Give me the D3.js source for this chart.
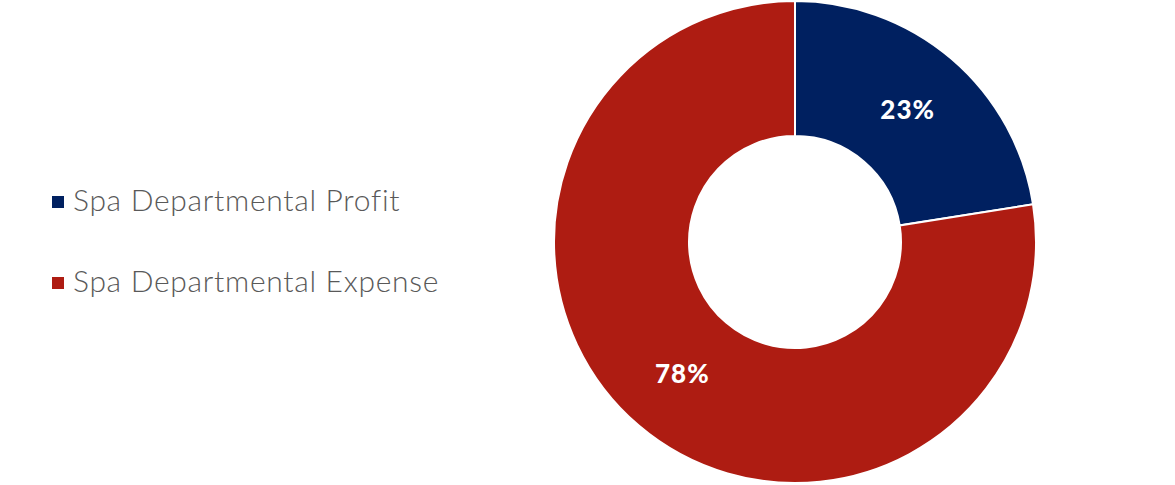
<!DOCTYPE html>
<html lang="en">
<head>
    <meta charset="UTF-8">
    <title>spa donut</title>
    <script src="https://d3js.org/d3.v7.min.js"></script>
    <style>
        body { margin: 0; background: #fff; }
        .legend text { font-family: Lato, "Open Sans", sans-serif; font-weight: 300; fill: #595959; letter-spacing: 0.7px; }
        .lbl { font-family: Lato, "Open Sans", sans-serif; font-weight: 900; fill: #fff; letter-spacing: 1px; }
    </style>
</head>
<body>
<svg id="chart" width="1175" height="485"></svg>
<script>
    // data
    let categories = ["Spa Departmental Profit", "Spa Departmental Expense"]
    let values = [22.5, 77.5]
    let colors = ["#002060", "#AE1C12"]

    let svg = d3.select("#chart")
    let cx = 795, cy = 242
    let outerR = 241, innerR = 106

    let pie = d3.pie().sort(null)
    let arcs = pie(values)
    let arc = d3.arc().innerRadius(innerR).outerRadius(outerR)
    let labelArc = d3.arc().innerRadius((innerR + outerR) / 2).outerRadius((innerR + outerR) / 2)

    let g = svg.append("g").attr("transform", `translate(${cx},${cy})`)

    g.selectAll("path")
        .data(arcs)
        .join("path")
        .attr("d", arc)
        .attr("fill", (d, i) => colors[i])
        .attr("stroke", "#fff")
        .attr("stroke-width", 2)

    g.selectAll("text")
        .data(arcs)
        .join("text")
        .attr("class", "lbl")
        .attr("transform", d => `translate(${labelArc.centroid(d)})`)
        .attr("text-anchor", "middle")
        .attr("dy", "0.36em")
        .attr("font-size", 26)
        .text(d => Math.round(d.data) + "%")

    // legend
    let leg = svg.append("g").attr("class", "legend")
    let items = leg.selectAll("g")
        .data(categories)
        .join("g")
        .attr("transform", (d, i) => `translate(52,${202 + i * 81})`)
    items.append("rect")
        .attr("x", 0).attr("y", -6)
        .attr("width", 12).attr("height", 12)
        .attr("fill", (d, i) => colors[i])
    items.append("text")
        .attr("x", 21)
        .attr("dy", "0.3em")
        .attr("font-size", 30)
        .text(d => d)
</script>
</body>
</html>
